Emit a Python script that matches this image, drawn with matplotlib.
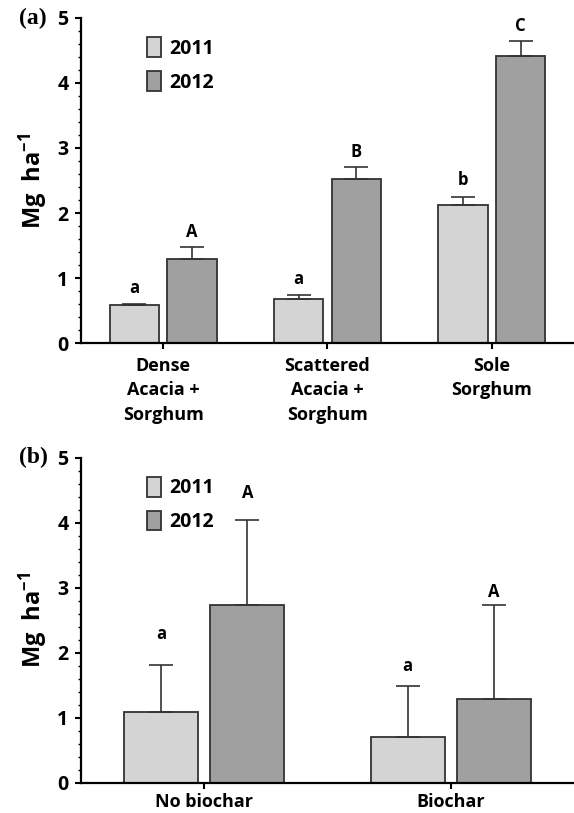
import matplotlib
matplotlib.use('Agg')
import matplotlib.pyplot as plt
import numpy as np

plt.rcParams['font.family'] = ['Open Sans', 'DejaVu Sans']
plt.rcParams['font.weight'] = 'bold'
plt.rcParams['mathtext.fontset'] = 'custom'
plt.rcParams['mathtext.rm'] = 'Open Sans:bold'
plt.rcParams['mathtext.default'] = 'rm'

# panel (a): cropping system
sys_labels = ['Dense\nAcacia +\nSorghum', 'Scattered\nAcacia +\nSorghum', 'Sole\nSorghum']
sys_2011 = [0.59, 0.68, 2.13]
sys_2011_err = [0.01, 0.06, 0.12]
sys_2012 = [1.29, 2.52, 4.42]
sys_2012_err = [0.18, 0.18, 0.22]
sys_letters_2011 = ['a', 'a', 'b']
sys_letters_2012 = ['A', 'B', 'C']

# panel (b): biochar
bio_labels = ['No biochar', 'Biochar']
bio_2011 = [1.09, 0.71]
bio_2011_err = [0.73, 0.78]
bio_2012 = [2.73, 1.29]
bio_2012_err = [1.32, 1.44]
bio_letters_2011 = ['a', 'a']
bio_letters_2012 = ['A', 'A']

c2011 = '#d4d4d4'
c2012 = '#a0a0a0'
edge = '#333333'


def panel(ax, labels, v1, e1, v2, e2, l1, l2, pads1, pads2, tag, tag_y, xpad):
    x = np.arange(len(labels))
    w = 0.3
    off = 0.175
    ekw = dict(ecolor=edge, elinewidth=1.2, capsize=8.3, capthick=1.2)
    ax.bar(x - off, v1, w, color=c2011, edgecolor=edge, linewidth=1.3,
           yerr=[np.zeros(len(v1)), e1], error_kw=ekw, label='2011', zorder=2)
    ax.bar(x + off, v2, w, color=c2012, edgecolor=edge, linewidth=1.3,
           yerr=[np.zeros(len(v2)), e2], error_kw=ekw, label='2012', zorder=2)
    for i in range(len(labels)):
        ax.text(x[i] - off, v1[i] + e1[i] + pads1[i], l1[i], ha='center', va='center', fontsize=12)
        ax.text(x[i] + off, v2[i] + e2[i] + pads2[i], l2[i], ha='center', va='center', fontsize=12)
    ax.set_xlim(-0.5, len(labels) - 0.5)
    ax.set_ylim(0, 5)
    ax.set_xticks(x)
    ax.set_xticklabels(labels, fontsize=13, linespacing=1.45)
    ax.set_yticks(range(6))
    ax.set_yticklabels([str(i) for i in range(6)], fontsize=14)
    ax.set_yticks(np.arange(0, 5.01, 0.2), minor=True)
    ax.tick_params(axis='y', which='major', direction='out', length=4, width=1.5, pad=5)
    ax.tick_params(axis='y', which='minor', direction='out', length=2, width=1)
    ax.tick_params(axis='x', direction='out', length=4, width=1.5, pad=xpad)
    for s in ['top', 'right']:
        ax.spines[s].set_visible(False)
    for s in ['left', 'bottom']:
        ax.spines[s].set_linewidth(1.6)
    ax.set_ylabel('Mg  ha$^{-1}$', fontsize=17, fontweight='bold', labelpad=5)
    ax.legend(loc='upper left', bbox_to_anchor=(0.134, 0.94), frameon=False,
              fontsize=14, handlelength=0.72, handleheight=1.15, handletextpad=0.45,
              labelspacing=0.65, borderpad=0, borderaxespad=0)
    fig.text(0.033, tag_y, tag, ha='left', va='center',
             fontsize=17, fontweight='bold', family='Liberation Serif')


fig = plt.figure(figsize=(5.74, 8.13), dpi=100)
ax1 = fig.add_axes([0.141, 0.578, 0.859, 0.400])
ax2 = fig.add_axes([0.141, 0.037, 0.859, 0.400])

panel(ax1, sys_labels, sys_2011, sys_2011_err, sys_2012, sys_2012_err,
      sys_letters_2011, sys_letters_2012, [0.25] * 3, [0.24] * 3, '(a)', 0.977, 6)
panel(ax2, bio_labels, bio_2011, bio_2011_err, bio_2012, bio_2012_err,
      bio_letters_2011, bio_letters_2012, [0.47, 0.31], [0.40, 0.21], '(b)', 0.437, 3)

fig.savefig('out.png', dpi=100)
